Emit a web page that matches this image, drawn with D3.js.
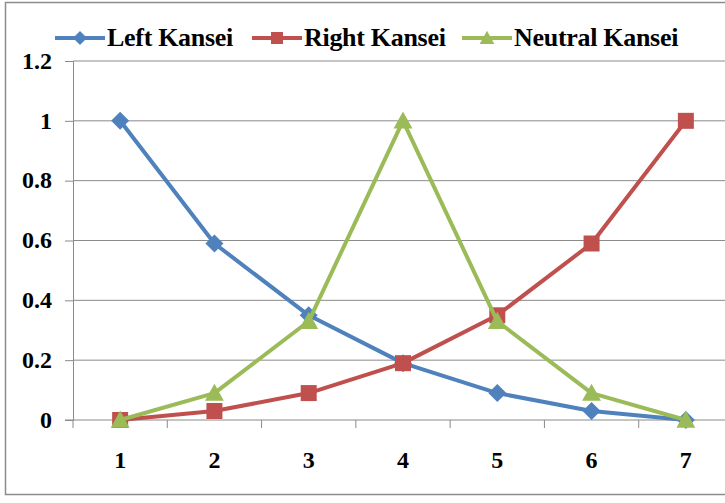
<!DOCTYPE html>
<html>
<head>
<meta charset="utf-8">
<script src="https://cdn.jsdelivr.net/npm/d3@7"></script>
<style>
  body { margin: 0; background: #fff; }
  text { font-family: "Liberation Serif", "Times New Roman", serif; font-weight: bold; fill: #000; }
</style>
</head>
<body>
<div id="svg-area"></div>
<script>
// chart values
const categories = ["1", "2", "3", "4", "5", "6", "7"]
const leftKansei = [1, 0.59, 0.35, 0.19, 0.09, 0.03, 0]
const rightKansei = [0, 0.03, 0.09, 0.19, 0.35, 0.59, 1]
const neutralKansei = [0, 0.09, 0.33, 1, 0.33, 0.09, 0]
const yTicks = [0, 0.2, 0.4, 0.6, 0.8, 1, 1.2]

const seriesList = [
  { name: "Left Kansei", values: leftKansei, color: "#4F81BD", marker: "diamond" },
  { name: "Right Kansei", values: rightKansei, color: "#C0504D", marker: "square" },
  { name: "Neutral Kansei", values: neutralKansei, color: "#9BBB59", marker: "triangle" },
]

const svgWidth = 725
const svgHeight = 503

// plot area (runs a bit past the right edge, like the picture)
const plot = { left: 73, top: 61, right: 733, bottom: 420 }

let svg = d3.select("#svg-area")
  .append("svg")
  .attr("width", svgWidth)
  .attr("height", svgHeight)

// outer chart border
svg.append("rect")
  .attr("x", 5.5).attr("y", 2.5)
  .attr("width", 740).attr("height", 492)
  .attr("fill", "none")
  .attr("stroke", "#8c8c8c")
  .attr("stroke-width", 1.5)

const x = d3.scaleBand()
  .domain(categories)
  .range([plot.left, plot.right])

const y = d3.scaleLinear()
  .domain([0, 1.2])
  .range([plot.bottom, plot.top])

// gridlines
svg.append("g")
  .selectAll("line")
  .data(yTicks.filter(t => t > 0))
  .enter()
  .append("line")
  .attr("x1", plot.left).attr("x2", plot.right)
  .attr("y1", d => y(d)).attr("y2", d => y(d))
  .attr("stroke", "#8a8a8a")
  .attr("stroke-width", 1)

// y axis
let yAxis = svg.append("g")
  .attr("transform", `translate(${plot.left},0)`)
  .call(d3.axisLeft(y).tickValues(yTicks).tickSize(8).tickPadding(13).tickFormat(d => d3.format("")(+d.toFixed(1))))
yAxis.select(".domain").attr("stroke", "#8a8a8a")
yAxis.selectAll(".tick line").attr("stroke", "#8a8a8a")
yAxis.selectAll("text").style("font-size", "24px").attr("dy", "0.3em")

// x axis (ticks between categories)
let xAxisG = svg.append("g")
xAxisG.append("line")
  .attr("x1", plot.left - 8).attr("x2", plot.right)
  .attr("y1", plot.bottom).attr("y2", plot.bottom)
  .attr("stroke", "#8a8a8a")
xAxisG.selectAll(".xt")
  .data(categories)
  .enter()
  .append("line")
  .attr("x1", d => x(d)).attr("x2", d => x(d))
  .attr("y1", plot.bottom).attr("y2", plot.bottom + 8)
  .attr("stroke", "#8a8a8a")
xAxisG.selectAll("text")
  .data(categories)
  .enter()
  .append("text")
  .attr("x", d => x(d) + x.bandwidth() / 2)
  .attr("y", plot.bottom + 48)
  .attr("text-anchor", "middle")
  .style("font-size", "24px")
  .text(d => d)

const line = d3.line()
  .x((d, i) => x(categories[i]) + x.bandwidth() / 2)
  .y(d => y(d))

function markerPath(type, size) {
  let p = d3.path()
  if (type === "diamond") {
    p.moveTo(0, -size); p.lineTo(size, 0); p.lineTo(0, size); p.lineTo(-size, 0)
  } else if (type === "square") {
    p.rect(-size, -size, size * 2, size * 2)
  } else {
    p.moveTo(0, -size * 1.05); p.lineTo(size * 1.05, size * 0.85); p.lineTo(-size * 1.05, size * 0.85)
  }
  p.closePath()
  return p.toString()
}

seriesList.forEach(s => {
  svg.append("path")
    .datum(s.values)
    .attr("d", line)
    .attr("fill", "none")
    .attr("stroke", s.color)
    .attr("stroke-width", 4)
    .attr("stroke-linejoin", "round")

  svg.append("g")
    .selectAll("path")
    .data(s.values)
    .enter()
    .append("path")
    .attr("transform", (d, i) => `translate(${x(categories[i]) + x.bandwidth() / 2},${y(d)})`)
    .attr("d", markerPath(s.marker, s.marker === "square" ? 8 : 9))
    .attr("fill", s.color)
})

// legend
const legendX = [55, 252, 462]
seriesList.forEach((s, i) => {
  let g = svg.append("g").attr("transform", `translate(${legendX[i]},38)`)
  g.append("line")
    .attr("x1", 0).attr("x2", 50)
    .attr("stroke", s.color).attr("stroke-width", 4)
  g.append("path")
    .attr("transform", "translate(25,0)")
    .attr("d", markerPath(s.marker, s.marker === "square" ? 6 : 7))
    .attr("fill", s.color)
  g.append("text")
    .attr("x", 52).attr("y", 8)
    .style("font-size", "26px")
    .style("letter-spacing", "-0.3px")
    .text(s.name)
})
</script>
</body>
</html>
